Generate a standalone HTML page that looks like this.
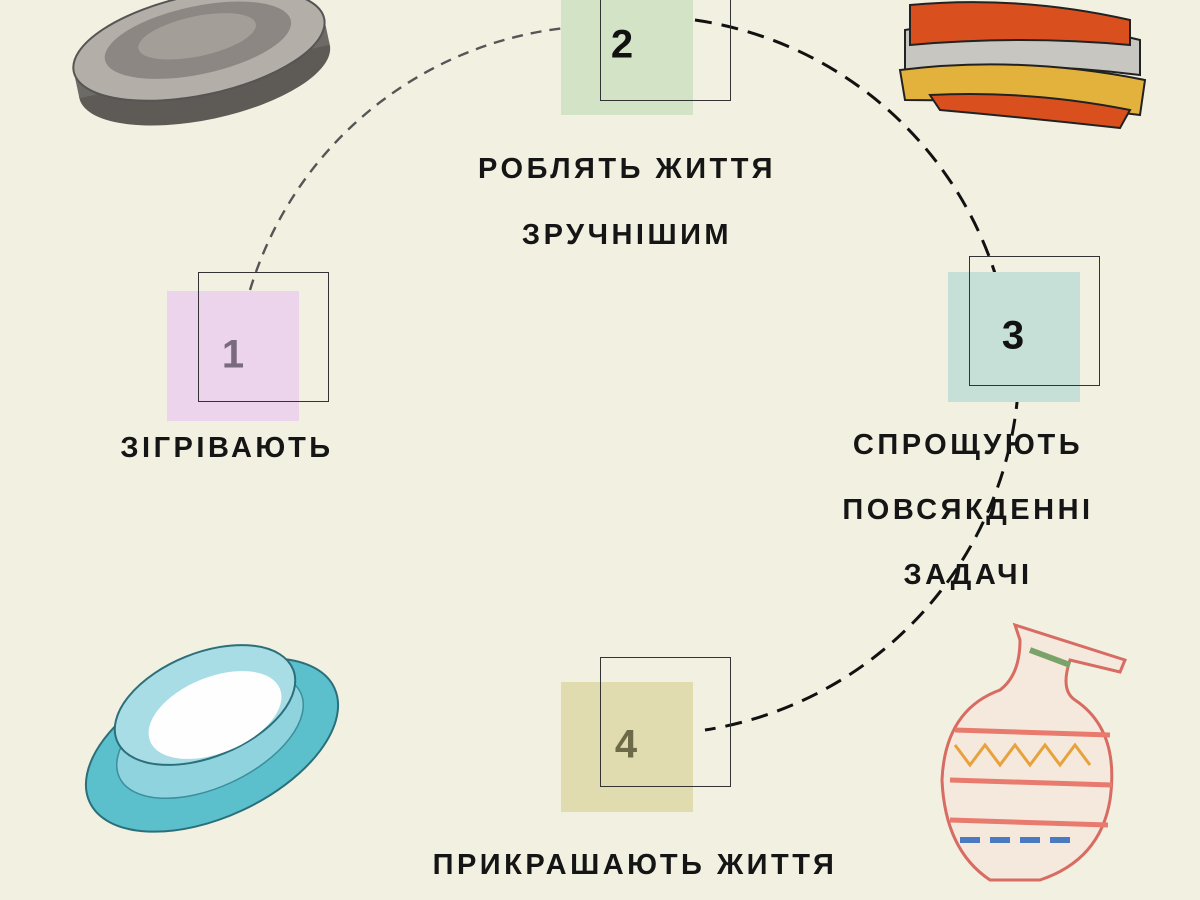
<!DOCTYPE html>
<html><head><meta charset="utf-8"><style>
html,body{margin:0;padding:0}
body{width:1200px;height:900px;background:#f1f0e1;position:relative;overflow:hidden;font-family:"Liberation Sans","DejaVu Sans",sans-serif}
.t{position:absolute;font-weight:bold;font-size:29px;letter-spacing:3.5px;color:#151515;white-space:nowrap;transform:translateX(-50%)}
.f{position:absolute;width:132px;height:130px}
.o{position:absolute;width:131px;height:130px;border:1.3px solid #333;box-sizing:border-box}
.n{position:absolute;font-weight:bold;font-size:40px;transform:translate(-50%,-50%)}
</style></head><body>
<svg width="1200" height="900" style="position:absolute;left:0;top:0">
<path d="M250,290 A372,372 0 0 1 565,28" fill="none" stroke="#555" stroke-width="2.4" stroke-dasharray="11,8"/>
<path d="M695,20 A372,372 0 0 1 1000,290" fill="none" stroke="#111" stroke-width="3" stroke-dasharray="17,10"/>
<path d="M1018,392 A372,372 0 0 1 705,730" fill="none" stroke="#111" stroke-width="3" stroke-dasharray="17,10"/>
<g transform="rotate(-12 200 50)">
<ellipse cx="200" cy="72" rx="128" ry="48" fill="#5e5a56"/>
<rect x="72" y="45" width="256" height="27" fill="#6e6a66"/>
<ellipse cx="200" cy="45" rx="128" ry="50" fill="#b3aea7" stroke="#555" stroke-width="2"/>
<ellipse cx="200" cy="40" rx="95" ry="34" fill="#8c8782"/>
<ellipse cx="200" cy="36" rx="60" ry="20" fill="#a39e98"/>
</g>
<g>
<path d="M905,30 Q1020,10 1140,40 L1140,75 Q1020,60 905,70 Z" fill="#c8c6c0" stroke="#222" stroke-width="2"/>
<path d="M910,5 Q1020,-5 1130,20 L1130,45 Q1020,35 910,45 Z" fill="#d9501e" stroke="#222" stroke-width="2"/>
<path d="M900,70 Q1020,55 1145,80 L1140,115 Q1020,100 905,100 Z" fill="#e3b23c" stroke="#222" stroke-width="2"/>
<path d="M930,95 Q1030,90 1130,110 L1120,128 Q1030,118 940,110 Z" fill="#d9501e" stroke="#222" stroke-width="2"/>
</g>
<g>
<ellipse cx="212" cy="745" rx="135" ry="72" transform="rotate(-25 212 745)" fill="#5bbfcc" stroke="#2b6f7a" stroke-width="2"/>
<ellipse cx="210" cy="735" rx="100" ry="52" transform="rotate(-25 210 735)" fill="#8fd3de" stroke="#3b8f9a" stroke-width="1.5"/>
<ellipse cx="205" cy="705" rx="95" ry="52" transform="rotate(-22 205 705)" fill="#a8dde6" stroke="#2b6f7a" stroke-width="2"/>
<ellipse cx="215" cy="715" rx="70" ry="38" transform="rotate(-22 215 715)" fill="#fefefe"/>
</g>
<g>
<path d="M1015,625 L1125,660 L1120,672 L1070,660 Q1060,690 1075,700 Q1120,730 1110,800 Q1100,860 1040,880 L990,880 Q945,850 942,780 Q945,710 1000,690 Q1020,675 1020,640 Z" fill="#f5e8dd" stroke="#d86b62" stroke-width="3"/>
<path d="M955,730 L1110,735 M950,780 L1112,785 M950,820 L1108,825" stroke="#e87a6e" stroke-width="5"/>
<path d="M955,745 l15,20 l15,-20 l15,20 l15,-20 l15,20 l15,-20 l15,20 l15,-20 l15,20" fill="none" stroke="#e8a23c" stroke-width="3"/>
<path d="M1030,650 L1070,665" stroke="#7aa36a" stroke-width="6"/>
<path d="M960,840 l20,0 m10,0 l20,0 m10,0 l20,0 m10,0 l20,0" stroke="#4a7ac0" stroke-width="6"/>
</g>
</svg>

<div class="f" style="left:167px;top:291px;background:#ecd4ec"></div>
<div class="o" style="left:198px;top:272px"></div>
<div class="n" style="left:233px;top:355px;color:#7a6a80">1</div>

<div class="f" style="left:561px;top:-15px;height:130px;background:#d2e3c6"></div>
<div class="o" style="left:600px;top:-29px"></div>
<div class="n" style="left:622px;top:45px;color:#111">2</div>

<div class="f" style="left:948px;top:272px;background:#c7e0d7"></div>
<div class="o" style="left:969px;top:256px"></div>
<div class="n" style="left:1013px;top:336px;color:#111">3</div>

<div class="f" style="left:561px;top:682px;background:#e1dbb0"></div>
<div class="o" style="left:600px;top:657px"></div>
<div class="n" style="left:626px;top:745px;color:#6d6a48">4</div>

<div class="t" style="left:627px;top:153px">РОБЛЯТЬ ЖИТТЯ</div>
<div class="t" style="left:627px;top:219px">ЗРУЧНІШИМ</div>
<div class="t" style="left:227px;top:432px">ЗІГРІВАЮТЬ</div>
<div class="t" style="left:968px;top:429px">СПРОЩУЮТЬ</div>
<div class="t" style="left:968px;top:494px">ПОВСЯКДЕННІ</div>
<div class="t" style="left:968px;top:559px">ЗАДАЧІ</div>
<div class="t" style="left:635px;top:849px">ПРИКРАШАЮТЬ ЖИТТЯ</div>
</body></html>
